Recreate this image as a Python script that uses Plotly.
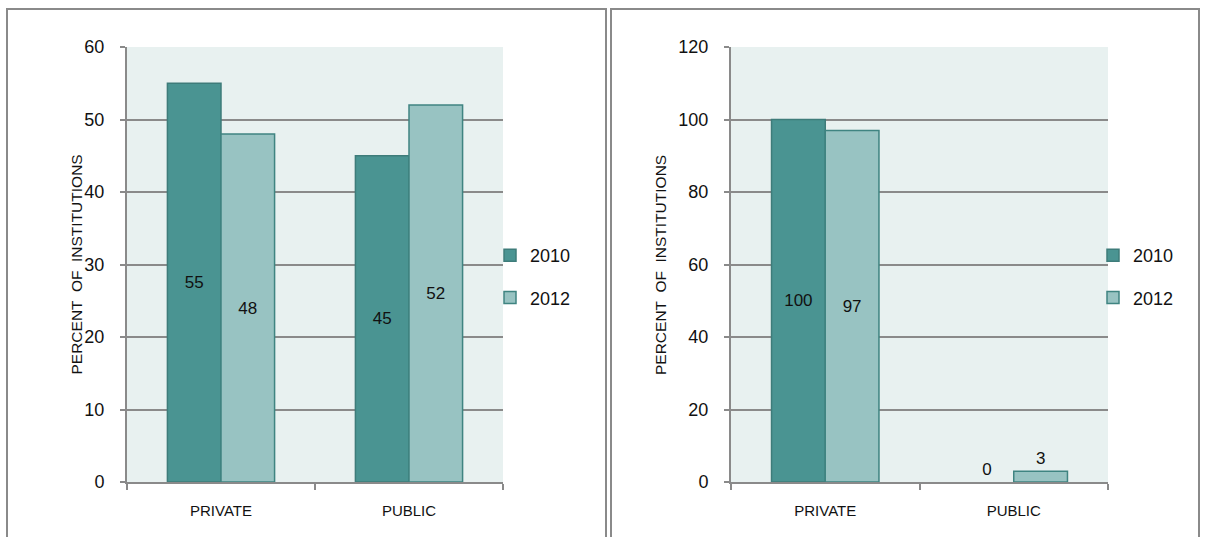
import plotly.graph_objects as go

categories = ["PRIVATE", "PUBLIC"]
years = ["2010", "2012"]

# Left panel: share of institutions (percent)
left_2010 = [55, 45]
left_2012 = [48, 52]

# Right panel: share of institutions (percent)
right_2010 = [100, 0]
right_2012 = [97, 3]

W, H = 1205, 537
FILL = {"2010": "#4a9492", "2012": "#98c3c2"}
EDGE = {"2010": "#3e7c7a", "2012": "#3f8481"}
GRID = "#8a8a8a"
PLOT_BG = "#e8f1f0"
FONT = "Liberation Sans, Arial"


def px_x(v):
    return v / W


def px_y(v):
    return 1 - v / H


fig = go.Figure()


def add_bars(values, year, xaxis, yaxis, legend, positions):
    # no outline on empty bars, so a zero value leaves only its label
    widths = [1.5 if v > 0 else 0 for v in values]
    fig.add_trace(go.Bar(
        x=categories, y=values, name=year,
        xaxis=xaxis, yaxis=yaxis, legend=legend,
        legendgroup=legend + year,
        marker=dict(color=FILL[year], line=dict(color=EDGE[year], width=widths)),
        text=[str(v) for v in values],
        textposition=positions,
        insidetextanchor="middle",
        textfont=dict(family=FONT, size=17, color="#111111"),
        outsidetextfont=dict(family=FONT, size=17, color="#111111"),
        cliponaxis=False,
        hoverinfo="skip",
    ))


add_bars(left_2010, "2010", "x", "y", "legend", ["inside", "inside"])
add_bars(left_2012, "2012", "x", "y", "legend", ["inside", "inside"])
add_bars(right_2010, "2010", "x2", "y2", "legend2", ["inside", "outside"])
add_bars(right_2012, "2012", "x2", "y2", "legend2", ["inside", "outside"])

ydom = [px_y(482), px_y(47)]

xaxis_common = dict(
    type="category", showgrid=False, showline=True, linecolor=GRID, linewidth=2,
    ticks="outside", ticklen=6, tickwidth=2, tickcolor=GRID, tickson="boundaries",
    tickfont=dict(family=FONT, size=15, color="#111111"),
    ticklabelstandoff=14, automargin=False, fixedrange=True,
)
yaxis_common = dict(
    showgrid=True, gridcolor=GRID, gridwidth=2, showline=True, linecolor=GRID,
    linewidth=2, ticks="outside", ticklen=5, tickwidth=2, tickcolor=GRID,
    tickfont=dict(family=FONT, size=18, color="#111111"),
    ticklabelstandoff=12, zeroline=False, automargin=False, fixedrange=True,
    domain=ydom,
)

legend_common = dict(
    xanchor="left", yanchor="top", bgcolor="rgba(0,0,0,0)",
    tracegroupgap=16, itemwidth=30,
    font=dict(family=FONT, size=18, color="#111111"),
)

fig.update_layout(
    width=W, height=H,
    margin=dict(l=0, r=0, t=0, b=0),
    paper_bgcolor="white",
    plot_bgcolor=PLOT_BG,
    barmode="group", bargap=0.43, bargroupgap=0,
    showlegend=True,
    xaxis=dict(domain=[px_x(127), px_x(503)], anchor="y", **xaxis_common),
    yaxis=dict(anchor="x", range=[0, 60], dtick=10, **yaxis_common),
    xaxis2=dict(domain=[px_x(731), px_x(1108)], anchor="y2", **xaxis_common),
    yaxis2=dict(anchor="x2", range=[0, 120], dtick=20, **yaxis_common),
    legend=dict(x=px_x(490), y=px_y(237), **legend_common),
    legend2=dict(x=px_x(1093), y=px_y(237), **legend_common),
)

# Vertical axis titles
for xpos in (65, 660):
    fig.add_annotation(
        text="PERCENT  OF  INSTITUTIONS", textangle=-90,
        x=px_x(xpos), y=px_y(265), xref="paper", yref="paper",
        showarrow=False,
        font=dict(family=FONT, size=15.5, color="#111111"),
    )

# Panel frames
for x0, x1 in ((7, 606), (611, 1199)):
    fig.add_shape(type="rect", xref="paper", yref="paper",
                  x0=px_x(x0), x1=px_x(x1), y0=px_y(560), y1=px_y(9),
                  line=dict(color=GRID, width=2), fillcolor="rgba(0,0,0,0)",
                  layer="above")

fig.write_html("out.html")
